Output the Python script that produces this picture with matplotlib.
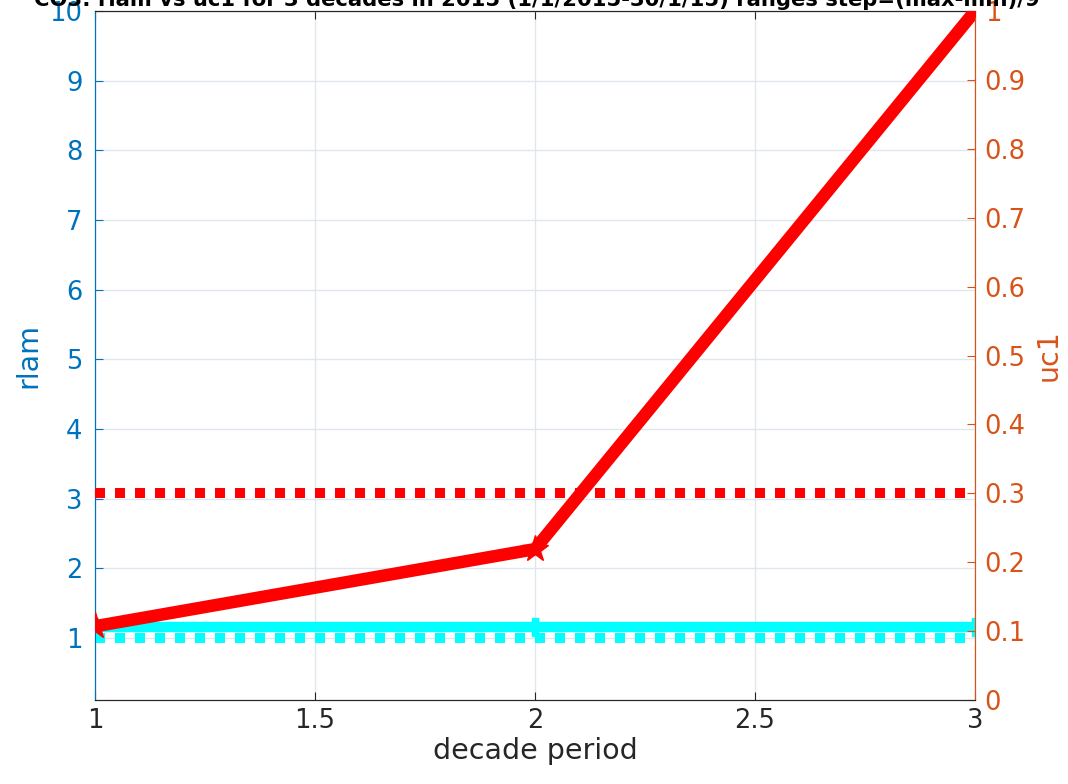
import matplotlib
matplotlib.use("Agg")
import matplotlib.pyplot as plt

decades = [1, 2, 3]
rlam = [1.16, 1.16, 1.16]
uc1 = [0.107, 0.219, 1.0]
rlam_thr = [1.0, 1.0, 1.0]
uc1_thr = [0.3, 0.3, 0.3]
xticks = [1, 1.5, 2, 2.5, 3]
yticks_left = [1, 2, 3, 4, 5, 6, 7, 8, 9, 10]
yticks_right = [0, 0.1, 0.2, 0.3, 0.4, 0.5, 0.6, 0.7, 0.8, 0.9, 1]
title = "CO3: rlam vs uc1 for 3 decades in 2015 (1/1/2015-30/1/15) ranges step=(max-min)/9"

blue = "#0072BD"
orange = "#D95319"
fs = 18.5

fig = plt.figure(figsize=(10.68, 7.84), dpi=100)
ax = fig.add_axes([95/1068, 84/784, 880/1068, 689/784])
ax2 = ax.twinx()

ax.plot(decades, rlam_thr, color="cyan", lw=7.2, linestyle=(0, (1, 1)), dash_capstyle="butt", zorder=3)
ax.plot(decades, rlam, color="cyan", lw=7.5, marker="P", ms=13, zorder=4)
ax2.plot(decades, uc1_thr, color="red", lw=7.2, linestyle=(0, (1, 1)), dash_capstyle="butt", zorder=3)
ax2.plot(decades, uc1, color="red", lw=9, marker="*", ms=20, zorder=5)

ax.set_xlim(1, 3)
ax.set_ylim(0.11, 10)
ax2.set_ylim(0, 1)
ax.set_xticks(xticks)
ax.set_xticklabels(["1", "1.5", "2", "2.5", "3"])
ax.set_yticks(yticks_left)
ax2.set_yticks(yticks_right)
ax2.set_yticklabels([f"{v:g}" for v in yticks_right])

ax.grid(True, color="#dfe6ee", lw=1)
ax.set_axisbelow(True)

ax.tick_params(axis="x", labelsize=fs, colors="#262626", direction="in", length=6, pad=6)
ax.tick_params(axis="y", labelsize=fs, colors=blue, direction="in", length=6, pad=9)
ax2.tick_params(axis="y", labelsize=fs, colors=orange, direction="in", length=6, pad=7)
ax.tick_params(axis="x", top=True, direction="in")

ax.set_xlabel("decade period", fontsize=20.5, color="#262626", labelpad=2)
ax.set_ylabel("rlam", fontsize=20.5, color=blue, labelpad=5)
ax2.set_ylabel("uc1", fontsize=20.5, color=orange, labelpad=6)

for a in (ax, ax2):
    a.spines["left"].set_color(blue)
    a.spines["right"].set_color(orange)
    a.spines["bottom"].set_color("#262626")
    a.spines["top"].set_color("#262626")

fig.text(537/1068, 1 - 6/784, title, fontsize=15.2, fontweight="bold", ha="center", va="baseline", color="black")

fig.savefig("out.png", dpi=100)
